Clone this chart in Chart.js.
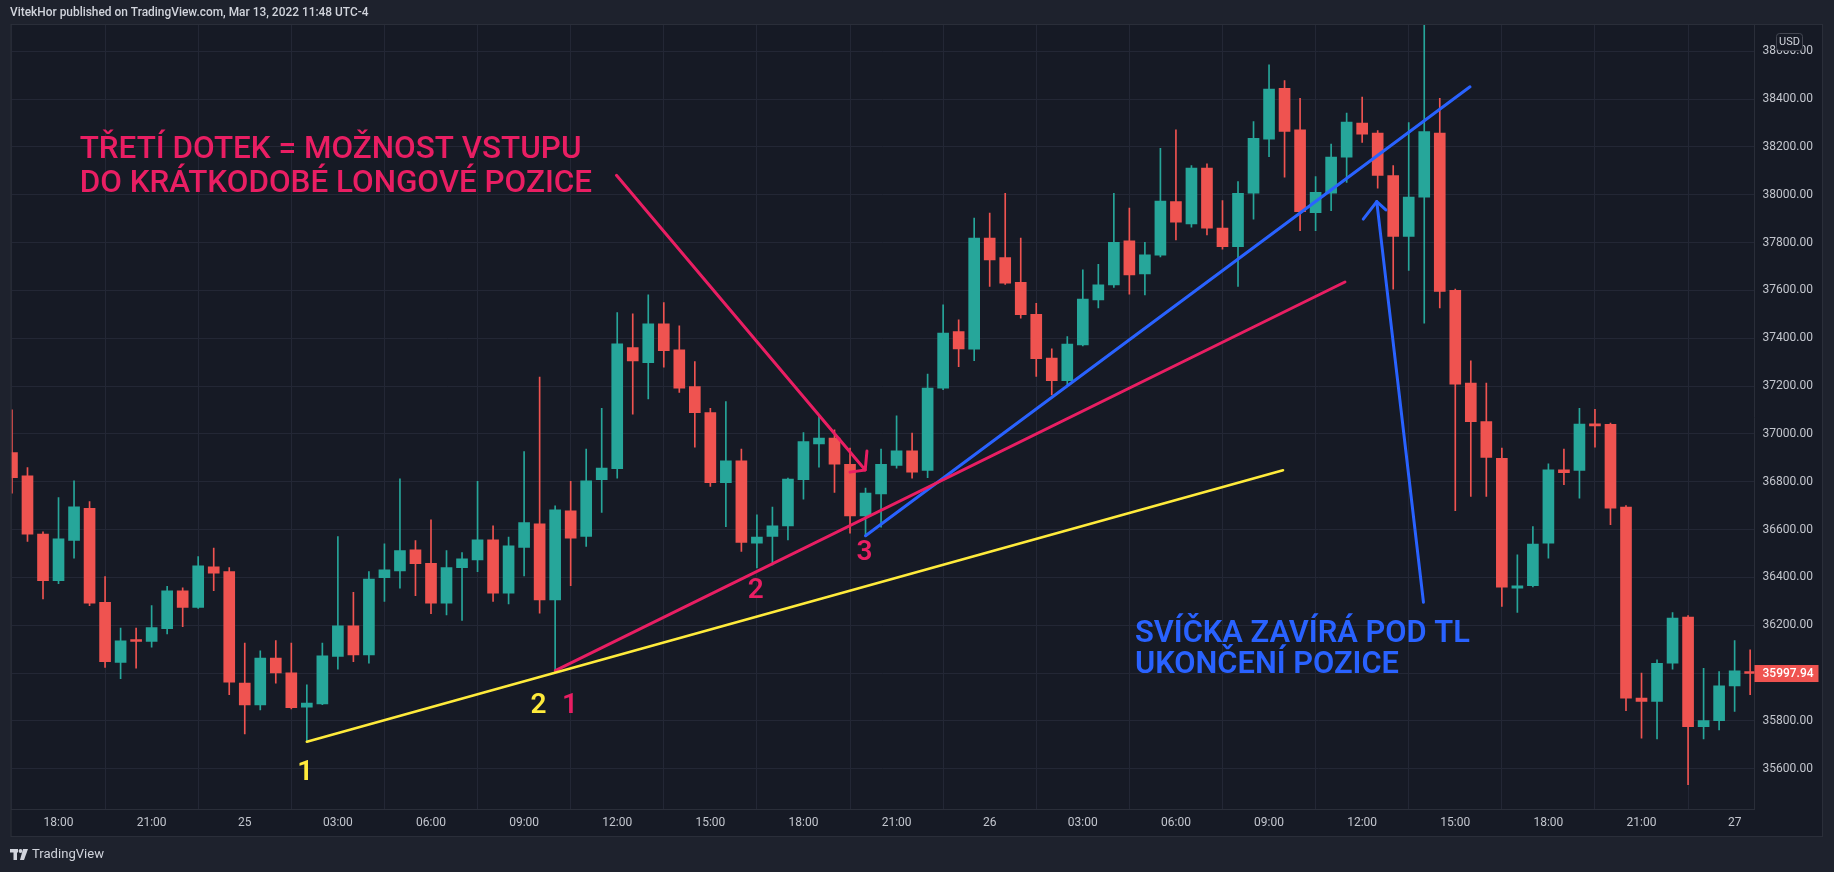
<!DOCTYPE html>
<html><head><meta charset="utf-8">
<script src="https://cdn.jsdelivr.net/npm/chart.js@4.4.1/dist/chart.umd.min.js"></script>
<style>html,body{margin:0;padding:0;background:#1e222d;overflow:hidden}#wrap{position:absolute;left:0;top:0;width:1834px;height:872px}</style>
</head><body><div id="wrap"><canvas id="c" width="1834" height="872"></canvas></div>
<script>
// ---- DATA (30-minute candles, index 0 = 18:00 on the 24th) ----
const firstIndex = -3;
const opens  = [36922,36824,36581,36386,36554,36689,36296,36044,36135,36132,36185,36344,36274,36444,36424,35958,35867,36062,36001,35857,35871,36069,36197,36076,36399,36427,36515,36459,36292,36441,36473,36557,36334,36525,36624,36306,36678,36571,36808,36854,37361,37298,37460,37351,37198,37089,36796,36887,36543,36571,36615,36808,36958,36982,36873,36657,36749,36868,36929,36847,37191,37428,37354,37818,37737,37634,37500,37317,37222,37372,37560,37623,37807,37669,37747,37971,37878,38111,37860,37783,38006,38232,38445,38271,37925,38006,38157,38299,38257,38080,37825,37990,38257,37600,37212,37051,36898,36355,36365,36543,36850,36847,37042,37040,36694,35895,35881,36041,36234,35776,35801,35946,36005];
const highs  = [37100,36859,36590,36734,36804,36717,36403,36188,36188,36282,36362,36356,36487,36522,36441,36125,36093,36136,36125,35951,36125,36571,36337,36424,36540,36812,36554,36641,36512,36504,36801,36615,36568,36926,37237,36699,36801,36936,37107,37507,37502,37581,37549,37452,37302,37107,37135,36936,36661,36694,36815,37005,37075,37017,36940,36773,36936,37075,37003,37250,37539,37477,37902,37923,38006,37818,37546,37355,37407,37686,37709,38006,37944,37801,38194,38271,38122,38129,37975,38055,38306,38543,38477,38403,38076,38212,38341,38408,38268,38122,38301,38720,38403,37605,37305,37212,36940,36494,36612,36875,36936,37107,37103,37045,36700,36000,36055,36253,36240,36020,36006,36136,36097];
const lows   = [36752,36550,36310,36374,36480,36282,36023,35976,36020,36108,36163,36194,36270,36344,35909,35745,35846,35958,35850,35714,35868,36016,36048,36041,36299,36355,36323,36248,36243,36220,36424,36299,36289,36406,36250,36010,36365,36529,36671,36815,37082,37146,37279,37173,36944,36780,36612,36508,36439,36452,36557,36727,36861,36755,36585,36571,36610,36857,36815,36817,37185,37281,37306,37616,37625,37484,37240,37163,37205,37368,37526,37612,37584,37581,37740,37811,37864,37832,37772,37616,37898,38159,38073,37850,37849,37933,38051,38218,38027,37605,37683,37463,37526,36679,36738,36738,36278,36253,36360,36480,36787,36731,36944,36620,35843,35728,35724,36016,35533,35724,35762,35839,35909];
const closes = [36817,36581,36386,36561,36695,36292,36048,36135,36132,36190,36344,36274,36448,36418,35962,35867,36062,36000,35855,35874,36072,36197,36076,36393,36431,36512,36457,36292,36441,36477,36557,36334,36532,36629,36306,36682,36564,36804,36857,37376,37305,37460,37348,37191,37089,36796,36887,36546,36568,36615,36811,36968,36982,36873,36657,36752,36873,36929,36840,37191,37421,37355,37818,37727,37630,37498,37314,37222,37375,37563,37623,37801,37665,37748,37973,37885,38111,37860,37783,38006,38236,38442,38264,37929,38010,38157,38303,38253,38080,37825,37990,38264,37595,37208,37051,36901,36359,36365,36539,36850,36838,37041,37033,36689,35895,35881,36041,36230,35776,35801,35946,36009,35997.94];
const lastPrice = 35997.94;

const timeTickIndex  = [0,6,12,18,24,30,36,42,48,54,60,66,72,78,84,90,96,102,108];
const timeTickLabels = ['18:00','21:00','25','03:00','06:00','09:00','12:00','15:00','18:00','21:00','26','03:00','06:00','09:00','12:00','15:00','18:00','21:00','27'];
const priceTicks = [35600,35800,36000,36200,36400,36600,36800,37000,37200,37400,37600,37800,38000,38200,38400,38600];

// trend lines (candle index, price)
const yellowLineX = [16, 78.9];       const yellowLineY = [35713, 36848];
const pinkLineX   = [32.01, 82.89];   const pinkLineY   = [36010, 37635];
const blueLineX   = [52.0, 90.95];    const blueLineY   = [36574, 38451];
const pinkArrowX  = [35.95, 51.98];   const pinkArrowY  = [38081, 36849];
const pinkHeadX   = [52.09, 51.98, 51.0]; const pinkHeadY = [36928, 36849, 36840];
const blueArrowX  = [87.95, 84.94];   const blueArrowY  = [36296, 37971];
const blueHeadX   = [84.07, 84.94, 85.53]; const blueHeadY = [37898, 37971, 37936];

// text notes
const pinkNoteLines = ['TŘETÍ DOTEK = MOŽNOST VSTUPU', 'DO KRÁTKODOBÉ LONGOVÉ POZICE'];
const pinkNoteX = 1.36;  const pinkNoteY = [38152, 38012];
const blueNoteLines = ['SVÍČKA ZAVÍRÁ POD TL', 'UKONČENÍ POZICE'];
const blueNoteX = 69.36; const blueNoteY = [36131, 35999];
const touchText = ['1','2','1','2','3'];
const touchX = [15.9, 30.93, 32.96, 44.92, 51.93];
const touchY = [35582, 35862, 35862, 36345, 36502];
const touchSeries = ['yellow','yellow','pink','pink','pink'];

const headerText = 'VitekHor published on TradingView.com, Mar 13, 2022 11:48 UTC-4';

// ---- STYLE ----
const UP = '#26a69a', DOWN = '#ef5350';
const PINK = '#e91e63', BLUE = '#2962ff', YELLOW = '#ffeb3b';
const colorOf = {yellow: YELLOW, pink: PINK, blue: BLUE};
const X_MIN = -3.03, X_MAX = 109.28, Y_MIN = 35431.5, Y_MAX = 38709.4;
const PANE = '#161a25', OUTER = '#1e222d', GRID = '#232735', BORDER = '#2a2e39', AXIS_TXT = '#c3c6ce';

const idx = opens.map((_, i) => firstIndex + i);
const candleColors = opens.map((o, i) => closes[i] >= o ? UP : DOWN);
const pts = (xs, ys) => xs.map((v, i) => ({x: v, y: ys[i]}));
const lineDs = (xs, ys, color, w) => ({type: 'line', data: pts(xs, ys), borderColor: color, borderWidth: w,
  pointRadius: 0, tension: 0, fill: false, order: 0, clip: 0, borderCapStyle: 'round', borderJoinStyle: 'round'});

const bgPlugin = {
  id: 'bg',
  beforeDraw(chart) {
    const {ctx, chartArea: a, scales: {x, y}} = chart;
    ctx.save();
    ctx.fillStyle = OUTER; ctx.fillRect(0, 0, chart.width, chart.height);
    ctx.fillStyle = PANE; ctx.fillRect(a.left, a.top, y.right - a.left, x.bottom - a.top);
    ctx.restore();
  },
  afterDraw(chart) {
    const {ctx, chartArea: a, scales: {x, y}} = chart;
    ctx.save();
    ctx.strokeStyle = BORDER; ctx.lineWidth = 1;
    ctx.strokeRect(a.left - 0.5, a.top - 0.5, y.right - a.left + 1, x.bottom - a.top + 1);
    ctx.fillStyle = '#d1d4dc'; ctx.textBaseline = 'middle'; ctx.textAlign = 'left';
    ctx.font = '500 13px Roboto';
    let hw = ctx.measureText(headerText).width;
    ctx.font = `500 ${(13 * 359 / hw).toFixed(2)}px Roboto`;
    ctx.fillText(headerText, 10, 13);
    ctx.fillStyle = PANE; ctx.strokeStyle = '#434651';
    ctx.beginPath(); ctx.roundRect(1776.5, 33.5, 26, 17, 3); ctx.fill(); ctx.stroke();
    ctx.fillStyle = '#d1d4dc'; ctx.font = '400 11px Roboto'; ctx.textAlign = 'center';
    ctx.fillText('USD', 1789.5, 42.5);
    const py = y.getPixelForValue(lastPrice);
    ctx.fillStyle = '#ef5350';
    ctx.fillRect(a.right, py - 8.5, 64, 17);
    ctx.fillStyle = '#ffffff'; ctx.font = '500 12px Roboto'; ctx.textAlign = 'left';
    ctx.fillText(lastPrice.toFixed(2), a.right + 8, py + 0.5);
    ctx.fillStyle = '#d1d4dc';
    ctx.fillRect(10, 849, 8, 3.5); ctx.fillRect(13.5, 849, 3.5, 11);
    ctx.beginPath(); ctx.arc(20.5, 851, 1.9, 0, Math.PI * 2); ctx.fill();
    ctx.beginPath(); ctx.moveTo(23, 849); ctx.lineTo(28, 849); ctx.lineTo(24, 860); ctx.lineTo(20, 860); ctx.closePath(); ctx.fill();
    ctx.font = '400 14px Roboto'; ctx.textAlign = 'left';
    let tw = ctx.measureText('TradingView').width;
    ctx.font = `400 ${(14 * 72 / tw).toFixed(2)}px Roboto`;
    ctx.fillText('TradingView', 32, 855);
    ctx.restore();
  }
};

const notePlugin = {
  id: 'notes',
  afterDatasetsDraw(chart) {
    const {ctx, scales: {x, y}} = chart;
    ctx.save();
    ctx.textAlign = 'left'; ctx.textBaseline = 'alphabetic';
    ctx.font = '500 30px Roboto';
    let s = 30 * 502 / ctx.measureText(pinkNoteLines[0]).width;
    ctx.font = `500 ${s.toFixed(2)}px Roboto`; ctx.fillStyle = PINK;
    pinkNoteLines.forEach((t, i) => ctx.fillText(t, x.getPixelForValue(pinkNoteX), y.getPixelForValue(pinkNoteY[i])));
    ctx.font = '600 28px Roboto';
    s = 28 * 335 / ctx.measureText(blueNoteLines[0]).width;
    ctx.font = `600 ${s.toFixed(2)}px Roboto`; ctx.fillStyle = BLUE;
    blueNoteLines.forEach((t, i) => ctx.fillText(t, x.getPixelForValue(blueNoteX), y.getPixelForValue(blueNoteY[i])));
    ctx.font = '600 28px Roboto'; ctx.textAlign = 'center'; ctx.textBaseline = 'middle';
    touchText.forEach((t, i) => {
      ctx.fillStyle = colorOf[touchSeries[i]];
      ctx.fillText(t, x.getPixelForValue(touchX[i]), y.getPixelForValue(touchY[i]));
    });
    ctx.restore();
  }
};

new Chart(document.getElementById('c'), {
  type: 'bar',
  data: {
    datasets: [
      lineDs(yellowLineX, yellowLineY, YELLOW, 2.6),
      lineDs(pinkLineX, pinkLineY, PINK, 3),
      lineDs(blueLineX, blueLineY, BLUE, 3),
      lineDs(pinkArrowX, pinkArrowY, PINK, 3),
      lineDs(pinkHeadX, pinkHeadY, PINK, 3),
      lineDs(blueArrowX, blueArrowY, BLUE, 3),
      lineDs(blueHeadX, blueHeadY, BLUE, 3),
      {type: 'bar', data: idx.map((v, i) => ({x: v, y: [opens[i], closes[i]]})), backgroundColor: candleColors,
       barThickness: 11, minBarLength: 2, grouped: false, order: 1, clip: 0, borderWidth: 0},
      {type: 'bar', data: idx.map((v, i) => ({x: v, y: [lows[i], highs[i]]})), backgroundColor: candleColors,
       barThickness: 1, grouped: false, order: 2, clip: 0, borderWidth: 0}
    ]
  },
  options: {
    responsive: false, animation: false, devicePixelRatio: 1,
    layout: {padding: {left: 11.5, top: 25, right: 12, bottom: 36}},
    plugins: {legend: {display: false}, tooltip: {enabled: false}},
    scales: {
      x: {type: 'linear', min: X_MIN, max: X_MAX, offset: false,
          afterBuildTicks: s => { s.ticks = timeTickIndex.map(v => ({value: v})); },
          afterFit: s => { s.height = 27; },
          ticks: {autoSkip: false, maxRotation: 0, padding: 7, color: AXIS_TXT, font: {family: 'Roboto', size: 12},
                  callback: v => timeTickLabels[timeTickIndex.indexOf(v)]},
          grid: {color: GRID, drawTicks: false}, border: {color: BORDER}},
      y: {type: 'linear', position: 'right', min: Y_MIN, max: Y_MAX,
          afterBuildTicks: s => { s.ticks = priceTicks.map(v => ({value: v})); },
          afterFit: s => { s.width = 67.5; },
          ticks: {padding: 8, color: AXIS_TXT, font: {family: 'Roboto', size: 12}, callback: v => Number(v).toFixed(2)},
          grid: {color: GRID, drawTicks: false}, border: {color: BORDER}}
    }
  },
  plugins: [bgPlugin, notePlugin]
});
</script></body></html>
